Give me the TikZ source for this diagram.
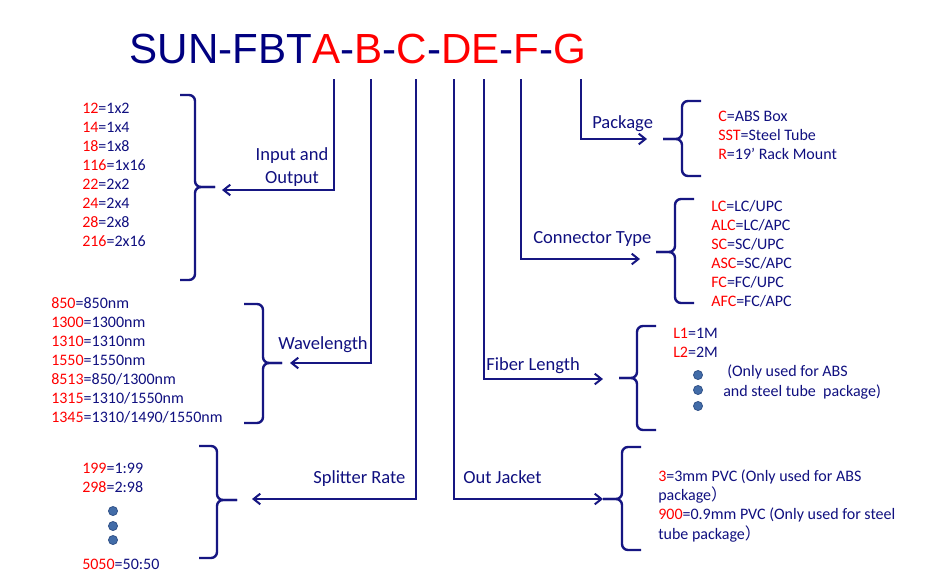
\documentclass[tikz,border=0pt]{standalone}
\usepackage{fontspec}
\setmainfont{Carlito}
\newfontfamily\titlefont{Liberation Sans}
\newfontfamily\cjk{Noto Sans CJK SC}
\usetikzlibrary{arrows.meta}

\definecolor{titleblue}{RGB}{0,0,128}
\definecolor{txtblue}{RGB}{16,16,128}
\definecolor{lineblue}{RGB}{22,22,130}
\definecolor{codered}{RGB}{255,0,0}
\definecolor{dotfill}{RGB}{66,108,168}
\definecolor{dotedge}{RGB}{52,84,138}
\newcommand{\cd}[1]{\textcolor{codered}{#1}}

\begin{document}
\begin{tikzpicture}[x=0.75pt, y=-0.75pt,
	conn/.style={draw=lineblue, line width=1.5pt, -{Straight Barb[length=5pt,width=8pt]}},
	brace/.style={draw=lineblue, line width=1.8pt, rounded corners=4.5pt},
	lbl/.style={text=txtblue, font=\fontsize{13.9}{16}\selectfont, inner sep=0pt, anchor=base west},
	item/.style={text=txtblue, font=\fontsize{12}{14.3}\selectfont, inner sep=0pt, anchor=base west},
	dot/.style={circle, fill=dotfill, draw=dotedge, line width=0.6pt, minimum size=6.8pt, inner sep=0pt}]
	% Canvas
	\fill[white] (0,0) rectangle (931,583);

	% Part number
	\node[anchor=base west, inner sep=0pt, text=titleblue, font=\titlefont\fontsize{31.6}{38}\selectfont] (title) at (129.5,63) {SUN-FBT\cd{A}-\cd{B}-\cd{C}-\cd{DE}-\cd{F}-\cd{G}};

	% Line ends under the letters
	\coordinate (atop) at (334,79);
	\coordinate (btop) at (371,79);
	\coordinate (ctop) at (416,79);
	\coordinate (dtop) at (454,79);
	\coordinate (etop) at (484,79);
	\coordinate (ftop) at (521,79);
	\coordinate (gtop) at (581,79);
	% Arrow tips
	\coordinate (atip) at (222,190);
	\coordinate (btip) at (290,363);
	\coordinate (ctip) at (252,499);
	\coordinate (dtip) at (603,499);
	\coordinate (etip) at (603,379);
	\coordinate (ftip) at (640,259);
	\coordinate (gtip) at (647,139);

	% Connectors
	\draw[conn] (atop) |- (atip);
	\draw[conn] (btop) |- (btip);
	\draw[conn] (ctop) |- (ctip);
	\draw[conn] (dtop) |- (dtip);
	\draw[conn] (etop) |- (etip);
	\draw[conn] (ftop) |- (ftip);
	\draw[conn] (gtop) |- (gtip);

	% Labels
	\node[lbl, anchor=base] (inlbl) at (292,160) {Input and};
	\node[lbl, anchor=base] (outlbl) at (292,183) {Output};
	\node[lbl] (wllbl) at (278,349) {Wavelength};
	\node[lbl] (srlbl) at (313,483) {Splitter Rate};
	\node[lbl] (ojlbl) at (463,483) {Out Jacket};
	\node[lbl] (fllbl) at (486,370) {Fiber Length};
	\node[lbl] (ctlbl) at (533,243) {Connector Type};
	\node[lbl] (pklbl) at (592,128) {Package};

	% Braces, left side
	\draw[brace] (180,95) -- (195,95) -- (195,187) -- (215,187);
	\draw[brace] (215,187) -- (195,187) -- (195,280) -- (180,280);
	\draw[brace] (244,304) -- (263,304) -- (263,363) -- (282,363);
	\draw[brace] (282,363) -- (263,363) -- (263,423) -- (244,423);
	\draw[brace] (199,446) -- (217,446) -- (217,500) -- (237,500);
	\draw[brace] (237,500) -- (217,500) -- (217,558) -- (199,558);
	% Braces, right side
	\draw[brace] (701,101) -- (682,101) -- (682,139) -- (663,139);
	\draw[brace] (663,139) -- (682,139) -- (682,176) -- (701,176);
	\draw[brace] (694,199) -- (675,199) -- (675,252) -- (656,252);
	\draw[brace] (656,252) -- (675,252) -- (675,303) -- (694,303);
	\draw[brace] (656,326) -- (637,326) -- (637,378) -- (619,378);
	\draw[brace] (619,378) -- (637,378) -- (637,430) -- (656,430);
	\draw[brace] (641,447) -- (622,447) -- (622,499) -- (603,499);
	\draw[brace] (603,499) -- (622,499) -- (622,550) -- (641,550);

	% Input and Output codes
	\foreach \c/\v [count=\i from 0] in {12/1x2,14/1x4,18/1x8,116/1x16,22/2x2,24/2x4,28/2x8,216/2x16}
		\node[item] (inp\i) at (82,113+19.1*\i) {\cd{\c}=\v};

	% Wavelength codes
	\foreach \c/\v [count=\i from 0] in {850/850nm,1300/1300nm,1310/1310nm,1550/1550nm,8513/{850/1300nm},1315/{1310/1550nm},1345/{1310/1490/1550nm}}
		\node[item] (wl\i) at (51,308+19.1*\i) {\cd{\c}=\v};

	% Splitter rate codes
	\node[item] (sr1) at (82,473) {\cd{199}=1:99};
	\node[item] (sr2) at (82,492) {\cd{298}=2:98};
	\node[item] (sr3) at (82,569) {\cd{5050}=50:50};
	\foreach \y [count=\i] in {511,526,540}
		\node[dot] (srdot\i) at (113,\y) {};

	% Package codes
	\node[item] (pk1) at (718,121) {\cd{C}=ABS Box};
	\node[item] (pk2) at (718,140) {\cd{SST}=Steel Tube};
	\node[item] (pk3) at (718,159) {\cd{R}=19’ Rack Mount};

	% Connector codes
	\foreach \c/\v [count=\i from 0] in {LC/{LC/UPC},ALC/{LC/APC},SC/{SC/UPC},ASC/{SC/APC},FC/{FC/UPC},AFC/{FC/APC}}
		\node[item] (ct\i) at (711,211+19.1*\i) {\cd{\c}=\v};

	% Fiber length codes
	\node[item] (fl1) at (673,338) {\cd{L1}=1M};
	\node[item] (fl2) at (673,357) {\cd{L2}=2M};
	\foreach \y [count=\i] in {375,390,406}
		\node[dot] (fldot\i) at (698,\y) {};
	\node[item] (flnote1) at (727,376) {(Only used for ABS};
	\node[item] (flnote2) at (723,396) {and steel tube\ \ package)};

	% Out jacket codes
	\node[item] (oj1) at (658,481) {\cd{3}=3mm PVC (Only used for ABS};
	\node[item] (oj2) at (658,500) {package{\cjk ）}};
	\node[item] (oj3) at (658,519) {\cd{900}=0.9mm PVC (Only used for steel};
	\node[item] (oj4) at (658,539) {tube package{\cjk ）}};
\end{tikzpicture}
\end{document}
